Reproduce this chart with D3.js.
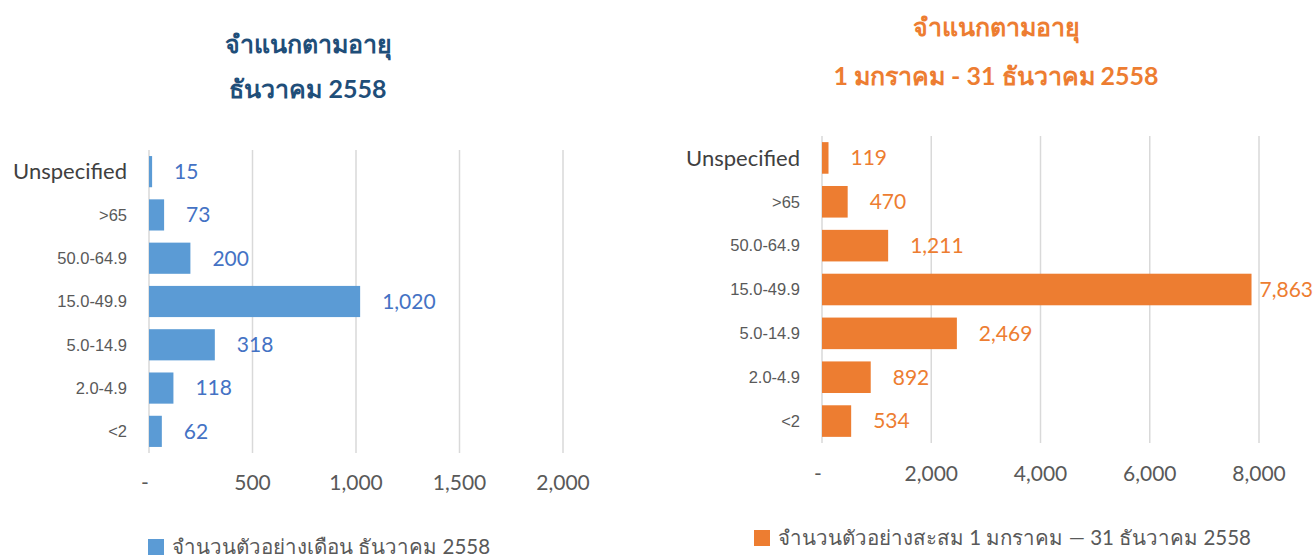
<!DOCTYPE html>
<html lang="th">
<head>
<meta charset="UTF-8">
<title>จำแนกตามอายุ</title>
<script src="https://d3js.org/d3.v7.min.js"></script>
<style>
  body { margin: 0; background: #fff; }
  svg { display: block; font-family: Lato, "Open Sans", "Noto Sans", sans-serif; }
  .grid line { stroke: #d9d9d9; stroke-width: 1.5; }
  .xtick { fill: #595959; font-size: 21px; }
  .cat { fill: #595959; font-size: 16.5px; font-family: "Liberation Sans Narrow", "Arial Narrow", sans-serif; }
  .cat.big { font-size: 22px; fill: #404040; font-family: Lato, sans-serif; }
  .title { font-weight: bold; font-size: 25px; }
  .legend { fill: #595959; font-size: 20.5px; }
  .val { font-size: 21px; }
</style>
</head>
<body>
<svg id="chart" width="1314" height="555"></svg>
<script>
// categories top to bottom
const categories = ["Unspecified", ">65", "50.0-64.9", "15.0-49.9", "5.0-14.9", "2.0-4.9", "<2"];
const decValues = [15, 73, 200, 1020, 318, 118, 62];
const yearValues = [119, 470, 1211, 7863, 2469, 892, 534];
const decTicks = [0, 500, 1000, 1500, 2000];
const yearTicks = [0, 2000, 4000, 6000, 8000];
const decTitle = ["จำแนกตามอายุ", "ธันวาคม 2558"];
const yearTitle = ["จำแนกตามอายุ", "1 มกราคม - 31 ธันวาคม 2558"];
const decLegend = "จำนวนตัวอย่างเดือน ธันวาคม 2558";
const yearLegend = "จำนวนตัวอย่างสะสม 1 มกราคม — 31 ธันวาคม 2558";

const svg = d3.select("#chart");
const fmt = d => d === 0 ? "-" : d3.format(",")(d);

function panel(o) {
  const x = d3.scaleLinear().domain([0, o.ticks[o.ticks.length - 1]]).range([o.x0, o.x1]);
  const y = d3.scaleBand().domain(categories).range([o.y0, o.y1]).paddingInner(0.28).paddingOuter(0.14);

  // titles
  o.title.forEach((t, i) => {
    svg.append("text").attr("class", "title")
      .attr("x", o.titleX).attr("y", o.titleY + i * o.titleGap)
      .attr("text-anchor", "middle").attr("fill", o.titleColor).text(t);
  });

  // grid
  svg.append("g").attr("class", "grid").selectAll("line")
    .data(o.ticks).join("line")
    .attr("x1", d => x(d)).attr("x2", d => x(d))
    .attr("y1", o.y0).attr("y2", o.y1);

  // tick labels
  svg.append("g").selectAll("text")
    .data(o.ticks).join("text")
    .attr("class", "xtick")
    .attr("x", d => d === 0 ? x(d) - 4 : x(d))
    .attr("y", o.tickY)
    .attr("text-anchor", "middle")
    .text(fmt);

  // category labels
  svg.append("g").selectAll("text")
    .data(categories).join("text")
    .attr("class", d => d === "Unspecified" ? "cat big" : "cat")
    .attr("x", o.catX)
    .attr("y", d => y(d) + y.bandwidth() / 2)
    .attr("dy", "0.35em")
    .attr("text-anchor", "end")
    .text(d => d);

  // bars
  svg.append("g").selectAll("rect")
    .data(o.values).join("rect")
    .attr("x", x(0))
    .attr("y", (d, i) => y(categories[i]))
    .attr("width", d => x(d) - x(0))
    .attr("height", y.bandwidth())
    .attr("fill", o.color);

  // value labels
  svg.append("g").selectAll("text")
    .data(o.values).join("text")
    .attr("class", "val")
    .attr("fill", o.labelColor)
    .attr("y", (d, i) => y(categories[i]) + y.bandwidth() / 2)
    .attr("dy", "0.35em")
    .text(d => d3.format(",")(d))
    .attr("x", function (d) {
      const w = this.getComputedTextLength();
      return Math.min(x(d) + 22, 1313 - w);
    });

  // legend
  const lg = svg.append("g").attr("transform", `translate(${o.legX},${o.legY})`);
  lg.append("rect").attr("x", 0).attr("y", -8).attr("width", 16).attr("height", 16).attr("fill", o.color);
  lg.append("text").attr("class", "legend").attr("x", 24).attr("dy", "0.35em").text(o.legend);
}

panel({
  values: decValues, ticks: decTicks, title: decTitle, legend: decLegend,
  x0: 149, x1: 563, y0: 150, y1: 453,
  titleX: 308, titleY: 53, titleGap: 45, titleColor: "#1f4e79",
  tickY: 490, catX: 127,
  color: "#5b9bd5", labelColor: "#4472c4",
  legX: 148, legY: 547
});

panel({
  values: yearValues, ticks: yearTicks, title: yearTitle, legend: yearLegend,
  x0: 822, x1: 1259, y0: 136, y1: 443,
  titleX: 996, titleY: 36, titleGap: 49, titleColor: "#ed7d31",
  tickY: 481, catX: 800,
  color: "#ed7d31", labelColor: "#ed7d31",
  legX: 754, legY: 538
});
</script>
</body>
</html>
